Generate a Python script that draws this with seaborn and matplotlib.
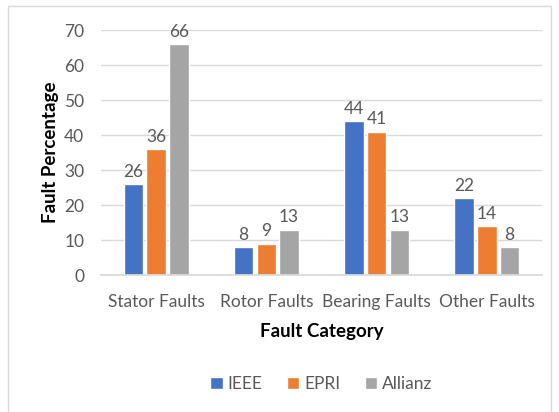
import seaborn as sns
import matplotlib.pyplot as plt
import matplotlib.patches as mpatches
import pandas as pd

# Fault share per category, as reported by each survey.
categories = ['Stator Faults', 'Rotor Faults', 'Bearing Faults', 'Other Faults']
sources = ['IEEE', 'EPRI', 'Allianz']
ieee = [26, 8, 44, 22]
epri = [36, 9, 41, 14]
allianz = [66, 13, 13, 8]
colors = ['#4472C4', '#ED7D31', '#A5A5A5']

sns.set_theme(style='white')
plt.rcParams['font.family'] = ['Lato', 'DejaVu Sans']
text_gray = '#595959'

# Long-format frame for seaborn.
rows = []
for source, values in zip(sources, [ieee, epri, allianz]):
    for cat, v in zip(categories, values):
        rows.append({'category': cat, 'source': source, 'value': v})
df = pd.DataFrame(rows)

fig = plt.figure(figsize=(5.59, 4.12), dpi=100)
ax = fig.add_axes([101 / 559, 1 - 275 / 412, 441 / 559, 245 / 412])

sns.barplot(data=df, x='category', y='value', hue='source', order=categories,
            hue_order=sources, palette=colors, width=0.62, gap=0.15,
            saturation=1, ax=ax, legend=True)

for container in ax.containers:
    ax.bar_label(container, fmt='%g', padding=3, fontsize=12.5, color=text_gray)

ax.set_ylim(0, 70)
ax.set_yticks(range(0, 71, 10))
ax.yaxis.grid(True, color='#D9D9D9', linewidth=1)
ax.set_axisbelow(True)
for side in ['top', 'right', 'left']:
    ax.spines[side].set_visible(False)
ax.spines['bottom'].set_color('#D9D9D9')
ax.tick_params(axis='both', length=0, labelsize=12.5, labelcolor=text_gray)
ax.tick_params(axis='x', pad=14)
ax.tick_params(axis='y', pad=12)

ax.set_xlabel('Fault Category', fontsize=13.5, fontweight='bold', color='black', labelpad=9)
ax.set_ylabel('Fault Percentage', fontsize=13.5, fontweight='bold', color='black', labelpad=4)

ax.legend(loc='center', bbox_to_anchor=(0.5, -0.445), ncol=3, frameon=False,
          fontsize=12.5, labelcolor=text_gray, handlelength=0.7, handleheight=0.7,
          handletextpad=0.3, columnspacing=1.4)

# Light chart-area border like the original.
fig.patches.append(mpatches.Rectangle((8 / 559, -0.01), 543 / 559, 1 - 6 / 412 + 0.01,
                                      transform=fig.transFigure, fill=False,
                                      edgecolor='#D9D9D9', linewidth=1))

plt.savefig('out.png', dpi=100)
